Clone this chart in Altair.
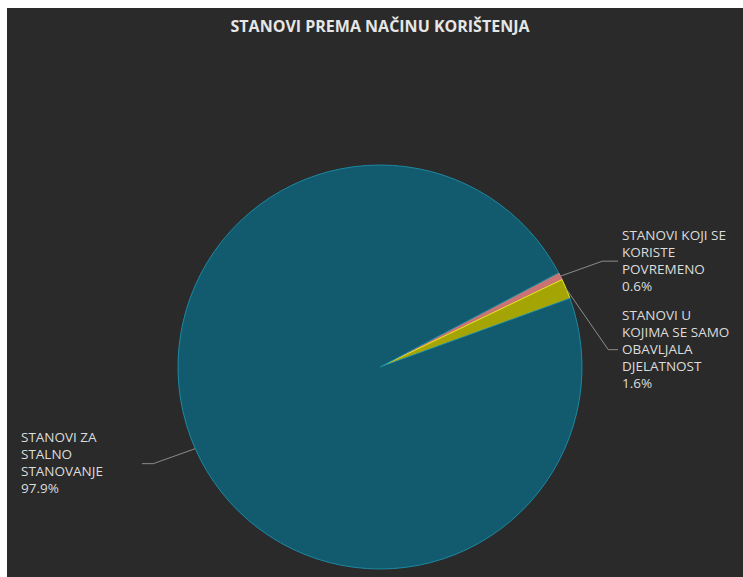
import math
import altair as alt
import pandas as pd

# ---------------- data ----------------
TITLE = "STANOVI PREMA NAČINU KORIŠTENJA"
categories = [
    "STANOVI KOJI SE KORISTE POVREMENO",
    "STANOVI U KOJIMA SE SAMO OBAVLJALA DJELATNOST",
    "STANOVI ZA STALNO STANOVANJE",
]
label_lines = [
    ["STANOVI KOJI SE", "KORISTE", "POVREMENO"],
    ["STANOVI U", "KOJIMA SE SAMO", "OBAVLJALA", "DJELATNOST"],
    ["STANOVI ZA", "STALNO", "STANOVANJE"],
]
percent = [0.6, 1.6, 97.9]

# ---------------- style / layout ----------------
fill_colors = ["#c97472", "#a4a404", "#125b6f"]
stroke_colors = ["#d98b89", "#e6e61e", "#1c88a2"]
BG = "#2a2a2a"
TEXT = "#dcdcdc"
LEADER = "#8c8c8c"
FONT = "Open Sans"

W, H = 736, 569            # view (dark panel) size
CX, CY, R = 373, 359, 202  # pie centre / radius inside the view
START = math.radians(62.2) # rotation of the first slice
LINE_H = 17
ELBOW_DY = 15
ELBOW_DX = 42
END_OFF = 36
GAP = 4
LABEL_BOX = 117
SEP_GAP = 12

# ---------------- derived geometry (from the values) ----------------
total = sum(percent)
cum = 0.0
rows = []
for i, (c, v) in enumerate(zip(categories, percent)):
    a = START + 2 * math.pi * (cum + v / 2) / total
    cum += v
    ex = CX + R * math.sin(a)
    ey = CY - R * math.cos(a)
    side = 1 if math.sin(a) > 0 else -1
    ey2 = ey + ELBOW_DY * (1 if ey > CY else -1)
    nlines = len(label_lines[i]) + 1
    rows.append(dict(i=i, cat=c, ex=ex, ey=ey, side=side, ly=ey2, n=nlines, h=nlines * LINE_H))

for s in (1, -1):
    grp = sorted([r for r in rows if r["side"] == s], key=lambda r: r["ly"])
    prev = None
    for r in grp:
        if prev is not None:
            r["ly"] = max(r["ly"], prev["ly"] + (prev["h"] + r["h"]) / 2 + SEP_GAP)
        prev = r

leader_rows, label_rows = [], []
for r in rows:
    s = r["side"]
    end_x = CX + s * (R + END_OFF)
    elbow_x = r["ex"] + s * ELBOW_DX
    if s > 0:
        elbow_x = min(elbow_x, end_x)
    else:
        elbow_x = max(elbow_x, end_x)
    pts = [(r["ex"], r["ey"]), (elbow_x, r["ly"]), (end_x, r["ly"])]
    for k, (px, py) in enumerate(pts):
        leader_rows.append(dict(cat=r["cat"], k=k, px=px, py=py))
    lx = end_x + GAP if s > 0 else end_x - GAP - LABEL_BOX
    txt = "\n".join(label_lines[r["i"]] + [f"{percent[r['i']]}%"])
    # first text line position so that the block is centred on the leader end
    ty = r["ly"] - (r["n"] - 1) / 2 * LINE_H
    label_rows.append(dict(cat=r["cat"], lx=lx, ly=ty, txt=txt))

pie_df = pd.DataFrame({"cat": categories, "value": percent, "idx": list(range(len(categories)))})
leader_df = pd.DataFrame(leader_rows)
label_df = pd.DataFrame(label_rows)
title_df = pd.DataFrame({"t": [TITLE]})

# ---------------- chart ----------------
pie = (
    alt.Chart(pie_df)
    .mark_arc(radius=R, strokeWidth=1)
    .encode(
        theta=alt.Theta("value:Q", stack=True,
                        scale=alt.Scale(range=[START, START + 2 * math.pi])),
        color=alt.Color("cat:N", scale=alt.Scale(domain=categories, range=fill_colors), legend=None),
        stroke=alt.Stroke("cat:N", scale=alt.Scale(domain=categories, range=stroke_colors), legend=None),
        order=alt.Order("idx:Q"),
        x=alt.value(CX),
        y=alt.value(CY),
    )
)

leaders = (
    alt.Chart(leader_df)
    .mark_line(color=LEADER, strokeWidth=1)
    .encode(
        x=alt.X("px:Q", scale=None, axis=None),
        y=alt.Y("py:Q", scale=None, axis=None),
        detail="cat:N",
        order="k:Q",
    )
)

labels = (
    alt.Chart(label_df)
    .mark_text(align="left", baseline="middle", lineBreak="\n", lineHeight=LINE_H,
               font=FONT, fontSize=13.5, color=TEXT)
    .encode(
        x=alt.X("lx:Q", scale=None, axis=None),
        y=alt.Y("ly:Q", scale=None, axis=None),
        text="txt:N",
    )
)

title = (
    alt.Chart(title_df)
    .mark_text(align="center", baseline="middle", font=FONT, fontSize=16,
               fontWeight="bold", color="#e6e6e6")
    .encode(text="t:N", x=alt.value(CX), y=alt.value(19))
)

chart = (
    alt.layer(pie, leaders, labels, title)
    .properties(
        width=W,
        height=H,
        autosize=alt.AutoSizeParams(type="none"),
        padding={"left": 7, "top": 8, "right": 0, "bottom": 0},
        background="white",
    )
    .configure_view(fill=BG, strokeWidth=0)
)

chart.save("out.html", embed_options={"renderer": "svg", "actions": False})
